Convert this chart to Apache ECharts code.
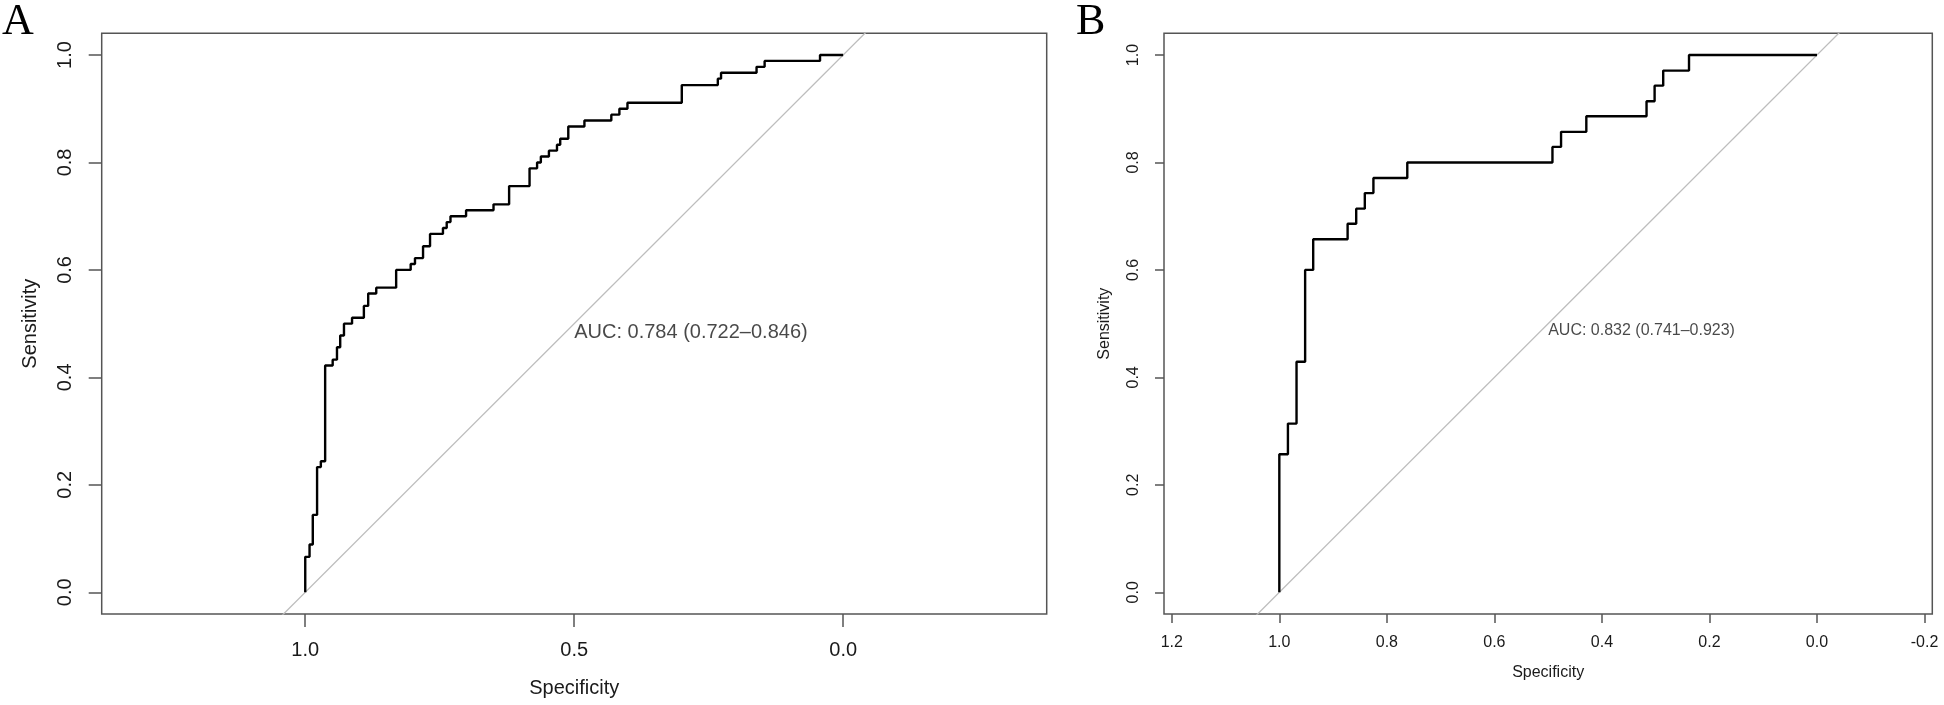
<!DOCTYPE html>
<html>
<head>
<meta charset="utf-8">
<script src="https://cdn.jsdelivr.net/npm/echarts@6/dist/echarts.min.js"></script>
<style>
  html, body { margin: 0; padding: 0; background: #ffffff; }
  #chart { width: 1944px; height: 705px; }
</style>
</head>
<body>
<div id="chart"></div>
<script>
// ---------- Panel A data (specificity, sensitivity) ----------
const specA = [1.000, 1.000, 0.992, 0.992, 0.986, 0.986, 0.978, 0.978, 0.971, 0.971,
  0.963, 0.963, 0.949, 0.949, 0.941, 0.941, 0.935, 0.935, 0.928, 0.928,
  0.913, 0.913, 0.891, 0.891, 0.883, 0.883, 0.868, 0.868, 0.831, 0.831,
  0.804, 0.804, 0.796, 0.796, 0.781, 0.781, 0.768, 0.768, 0.744, 0.744,
  0.737, 0.737, 0.730, 0.730, 0.701, 0.701, 0.650, 0.650, 0.621, 0.621,
  0.583, 0.583, 0.569, 0.569, 0.562, 0.562, 0.547, 0.547, 0.532, 0.532,
  0.526, 0.526, 0.511, 0.511, 0.481, 0.481, 0.431, 0.431, 0.416, 0.416,
  0.401, 0.401, 0.300, 0.300, 0.233, 0.233, 0.227, 0.227, 0.161, 0.161,
  0.146, 0.146, 0.043, 0.043, 0.000];
const sensA = [0.000, 0.066, 0.066, 0.089, 0.089, 0.144, 0.144, 0.233, 0.233, 0.244,
  0.244, 0.422, 0.422, 0.433, 0.433, 0.456, 0.456, 0.478, 0.478, 0.500,
  0.500, 0.511, 0.511, 0.533, 0.533, 0.556, 0.556, 0.567, 0.567, 0.600,
  0.600, 0.611, 0.611, 0.622, 0.622, 0.644, 0.644, 0.667, 0.667, 0.678,
  0.678, 0.689, 0.689, 0.700, 0.700, 0.711, 0.711, 0.722, 0.722, 0.756,
  0.756, 0.789, 0.789, 0.800, 0.800, 0.811, 0.811, 0.822, 0.822, 0.833,
  0.833, 0.844, 0.844, 0.867, 0.867, 0.878, 0.878, 0.889, 0.889, 0.900,
  0.900, 0.911, 0.911, 0.944, 0.944, 0.956, 0.956, 0.967, 0.967, 0.978,
  0.978, 0.989, 0.989, 1.000, 1.000];

// ---------- Panel B data (specificity, sensitivity) ----------
const specB = [1.000, 1.000, 0.984, 0.984, 0.968, 0.968, 0.952, 0.952, 0.937, 0.937,
  0.873, 0.873, 0.857, 0.857, 0.841, 0.841, 0.825, 0.825, 0.762, 0.762,
  0.492, 0.492, 0.476, 0.476, 0.429, 0.429, 0.317, 0.317, 0.302, 0.302,
  0.286, 0.286, 0.238, 0.238, 0.000];
const sensB = [0.000, 0.257, 0.257, 0.314, 0.314, 0.429, 0.429, 0.600, 0.600, 0.657,
  0.657, 0.686, 0.686, 0.714, 0.714, 0.743, 0.743, 0.771, 0.771, 0.800,
  0.800, 0.829, 0.829, 0.857, 0.857, 0.886, 0.886, 0.914, 0.914, 0.943,
  0.943, 0.971, 0.971, 1.000, 1.000];

// ---------- Tick labels and texts ----------
const xTicksA = [1.0, 0.5, 0.0];
const xTicksB = [1.2, 1.0, 0.8, 0.6, 0.4, 0.2, 0.0, -0.2];
const yTicks = [0.0, 0.2, 0.4, 0.6, 0.8, 1.0];
const aucTextA = 'AUC: 0.784 (0.722\u20130.846)';
const aucTextB = 'AUC: 0.832 (0.741\u20130.923)';
const aucPos = [0.5, 0.5];
const xRangeA = [-0.3784, 1.3784];
const xRangeB = [-0.2145, 1.2145];
const yRange = [-0.0404, 1.0404];

const zip = (a, b) => a.map((v, i) => [v, b[i]]);
const FONT = "'Liberation Sans', Arial, Helvetica, sans-serif";
const TXT = '#1a1a1a';
const AX = '#555555';

function xAxisCfg(idx, range, ticks, fs, tickLen, margin, nameGap) {
  return {
    gridIndex: idx, type: 'value', inverse: true, min: range[0], max: range[1], position: 'bottom',
    name: 'Specificity', nameLocation: 'middle', nameGap: nameGap,
    nameTextStyle: { fontFamily: FONT, fontSize: fs, color: TXT, verticalAlign: 'middle' },
    axisLine: { show: false, onZero: false },
    splitLine: { show: false },
    axisTick: { show: true, customValues: ticks, length: tickLen, lineStyle: { color: AX, width: 1.5 } },
    axisLabel: { show: true, customValues: ticks, margin: margin, fontFamily: FONT, fontSize: fs, color: TXT,
      verticalAlign: 'middle', align: 'center', formatter: v => v.toFixed(1) }
  };
}
function yAxisCfg(idx, fs, tickLen, margin, nameGap) {
  return {
    gridIndex: idx, type: 'value', min: yRange[0], max: yRange[1], position: 'left',
    name: 'Sensitivity', nameLocation: 'middle', nameGap: nameGap,
    nameTextStyle: { fontFamily: FONT, fontSize: fs, color: TXT, verticalAlign: 'middle', align: 'center' },
    axisLine: { show: false, onZero: false },
    splitLine: { show: false },
    axisTick: { show: true, customValues: yTicks, length: tickLen, lineStyle: { color: AX, width: 1.5 } },
    axisLabel: { show: true, customValues: yTicks, margin: margin, rotate: 90, fontFamily: FONT, fontSize: fs, color: TXT,
      verticalAlign: 'middle', align: 'center', formatter: v => v.toFixed(1) }
  };
}
function diag(range) {
  // identity line sensitivity = 1 - specificity, spanning the whole x range (clipped by the grid)
  return [[range[1], 1 - range[1]], [range[0], 1 - range[0]]];
}
function aucSeries(idx, text, fs) {
  return {
    type: 'scatter', xAxisIndex: idx, yAxisIndex: idx, silent: true,
    symbolSize: 0, data: [aucPos],
    label: { show: true, position: [0, 0], align: 'left', verticalAlign: 'top', offset: [0, -1],
      formatter: text, fontFamily: FONT, fontSize: fs, color: TXT }
  };
}

const chart = echarts.init(document.getElementById('chart'), null, { renderer: 'canvas' });
chart.setOption({
  animation: false,
  backgroundColor: '#ffffff',
  grid: [
    { left: 101.7, top: 33.3, width: 945, height: 580.7, show: true, borderColor: AX, borderWidth: 1.5, backgroundColor: 'transparent' },
    { left: 1164, top: 33.3, width: 768.3, height: 580.7, show: true, borderColor: AX, borderWidth: 1.5, backgroundColor: 'transparent' }
  ],
  xAxis: [
    xAxisCfg(0, xRangeA, xTicksA, 20, 13, 36.7, 74),
    xAxisCfg(1, xRangeB, xTicksB, 16, 9, 29, 59)
  ],
  yAxis: [
    yAxisCfg(0, 20, 13, 36.7, 71.7),
    yAxisCfg(1, 16, 9, 30, 59)
  ],
  graphic: [
    { type: 'text', left: 2, top: 0, style: { text: 'A', font: "44px 'Liberation Serif', 'Times New Roman', serif", fill: '#000' } },
    { type: 'text', left: 1076, top: 0, style: { text: 'B', font: "44px 'Liberation Serif', 'Times New Roman', serif", fill: '#000' } }
  ],
  series: [
    { type: 'line', xAxisIndex: 0, yAxisIndex: 0, data: diag(xRangeA), symbol: 'none', silent: true, clip: true,
      lineStyle: { color: '#bdbdbd', width: 1.3 } },
    { type: 'line', xAxisIndex: 0, yAxisIndex: 0, data: zip(specA, sensA), symbol: 'none', silent: true, clip: true,
      lineStyle: { color: '#000000', width: 2.4 } },
    aucSeries(0, aucTextA, 20),
    { type: 'line', xAxisIndex: 1, yAxisIndex: 1, data: diag(xRangeB), symbol: 'none', silent: true, clip: true,
      lineStyle: { color: '#bdbdbd', width: 1.3 } },
    { type: 'line', xAxisIndex: 1, yAxisIndex: 1, data: zip(specB, sensB), symbol: 'none', silent: true, clip: true,
      lineStyle: { color: '#000000', width: 2.4 } },
    aucSeries(1, aucTextB, 16)
  ]
});
</script>
</body>
</html>
